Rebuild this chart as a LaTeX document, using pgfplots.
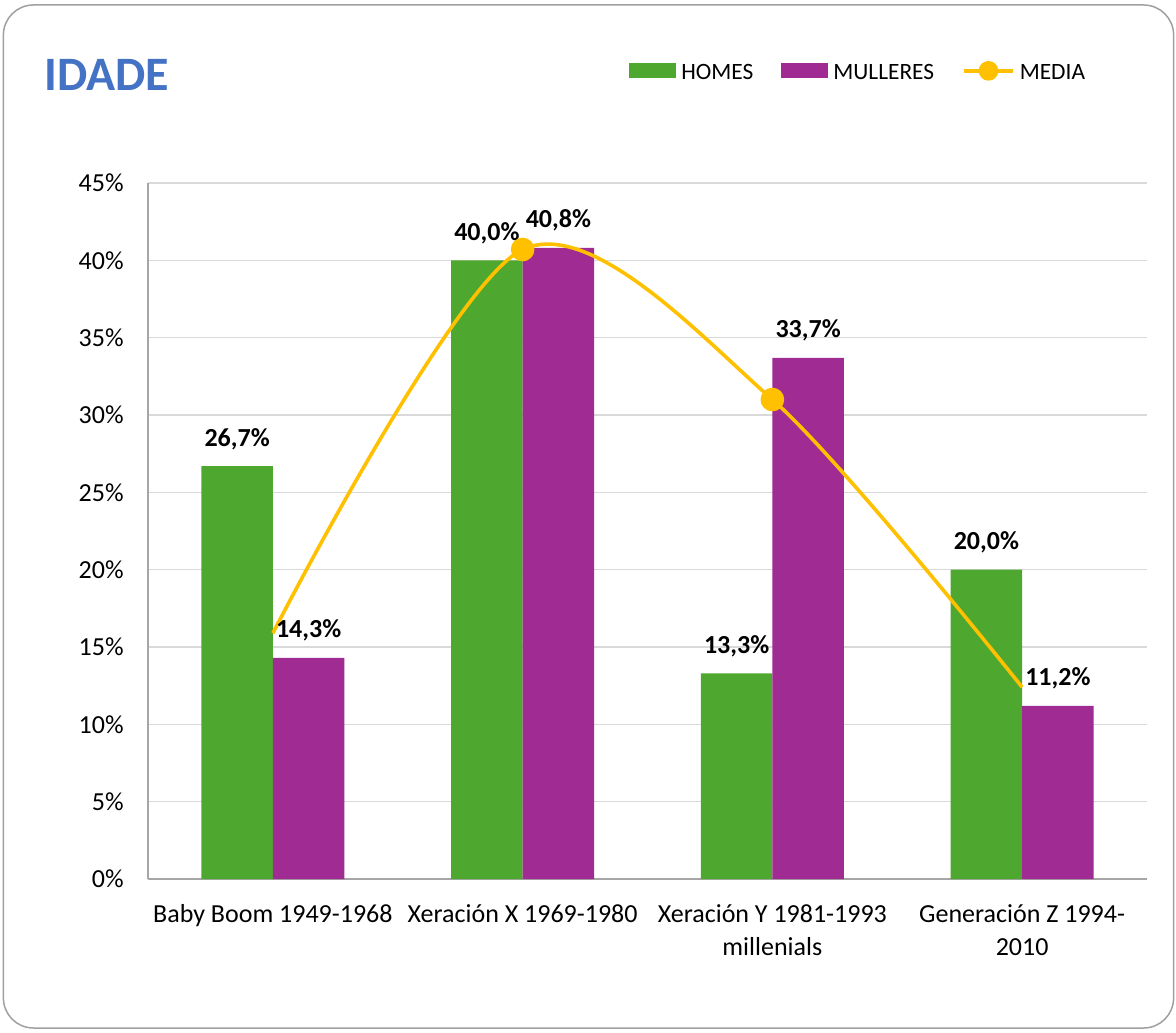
\documentclass[border=0pt]{standalone}
\usepackage{fontspec}
\setmainfont{Carlito}
\usepackage{pgfplots}
\pgfplotsset{compat=1.18}
\definecolor{homes}{HTML}{4EA72E}
\definecolor{mulleres}{HTML}{A02B93}
\definecolor{media}{HTML}{FFC000}
\definecolor{titleblue}{HTML}{4472C4}
\definecolor{gridc}{HTML}{D9D9D9}
\definecolor{axisc}{HTML}{A6A6A6}
\definecolor{framec}{HTML}{A0A0A0}
\begin{document}
\begin{tikzpicture}
\useasboundingbox (0,0) rectangle (588pt,516pt);
\draw[framec, line width=0.75pt, rounded corners=15pt] (1.7pt,2pt) rectangle (586.8pt,513.5pt);
\node[anchor=base west, inner sep=0pt, text=titleblue, font=\fontsize{24}{28}\selectfont\bfseries] at (22pt,470.6pt) {IDADE};
\begin{axis}[
  at={(74pt,76.5pt)}, anchor=south west,
  width=499.5pt, height=348pt, scale only axis,
  xmin=-0.5, xmax=3.5, ymin=0, ymax=45,
  axis lines=left, axis line style={-, draw=axisc, line width=0.75pt},
  major tick length=0pt,
  ytick={0,5,...,45},
  yticklabels={0\%,5\%,10\%,15\%,20\%,25\%,30\%,35\%,40\%,45\%},
  xtick={0,1,2,3},
  xticklabels={Baby Boom 1949-1968, Xeración X 1969-1980, {Xeración Y 1981-1993\\millenials}, {Generación Z 1994-\\2010}},
  xticklabel style={align=center, anchor=north, inner sep=0pt, yshift=-12.5pt, font=\fontsize{13}{16.7}\selectfont},
  yticklabel style={anchor=east, inner sep=0pt, xshift=-12pt, font=\fontsize{13}{16}\selectfont},
  ymajorgrids, grid style={gridc, line width=0.8pt},
  legend style={at={(axis description cs:0.938,1.1595)}, anchor=east, draw=none, fill=none, inner sep=0pt, outer sep=0pt,
    font=\fontsize{11.7}{14}\selectfont, nodes={inner sep=0pt},
    /tikz/every odd column/.append style={column sep=2.5pt},
    /tikz/every even column/.append style={column sep=14pt}},
  legend columns=3, legend cell align=left,
]
\addplot[ybar, bar width=35.75pt, bar shift=-17.875pt, fill=homes, draw=none,
  nodes near coords={\pgfmathprintnumber[fixed,fixed zerofill,precision=1,use comma,assume math mode=true]{\pgfplotspointmeta}\%},
  every node near coord/.append style={font=\fontsize{13}{15}\selectfont\bfseries, text=black, anchor=base, xshift=-17.875pt, yshift=10pt, inner sep=0pt},
  legend image code/.code={\fill[homes] (0pt,-2.25pt) rectangle (23.5pt,5.25pt);}]
  coordinates {(0,26.7) (1,40.0) (2,13.3) (3,20.0)};
\addlegendentry{HOMES}
\addplot[ybar, bar width=35.75pt, bar shift=17.875pt, fill=mulleres, draw=none,
  nodes near coords={\pgfmathprintnumber[fixed,fixed zerofill,precision=1,use comma,assume math mode=true]{\pgfplotspointmeta}\%},
  every node near coord/.append style={font=\fontsize{13}{15}\selectfont\bfseries, text=black, anchor=base, xshift=17.875pt, yshift=10pt, inner sep=0pt},
  legend image code/.code={\fill[mulleres] (0pt,-2.25pt) rectangle (23.5pt,5.25pt);}]
  coordinates {(0,14.3) (1,40.8) (2,33.7) (3,11.2)};
\addlegendentry{MULLERES}
\addplot[media, line width=1.8pt, smooth, mark=*, mark size=5pt, mark options={fill=media, draw=none}, mark indices={2,3},
  legend image code/.code={\draw[media, line width=1.8pt] (0pt,1.5pt) -- (24.5pt,1.5pt); \fill[media] (12.25pt,1.5pt) circle (4pt);}]
  coordinates {(0,15.9) (1,40.7) (2,31.0) (3,12.4)};
\addlegendentry{MEDIA}
\end{axis}
\end{tikzpicture}
\end{document}
